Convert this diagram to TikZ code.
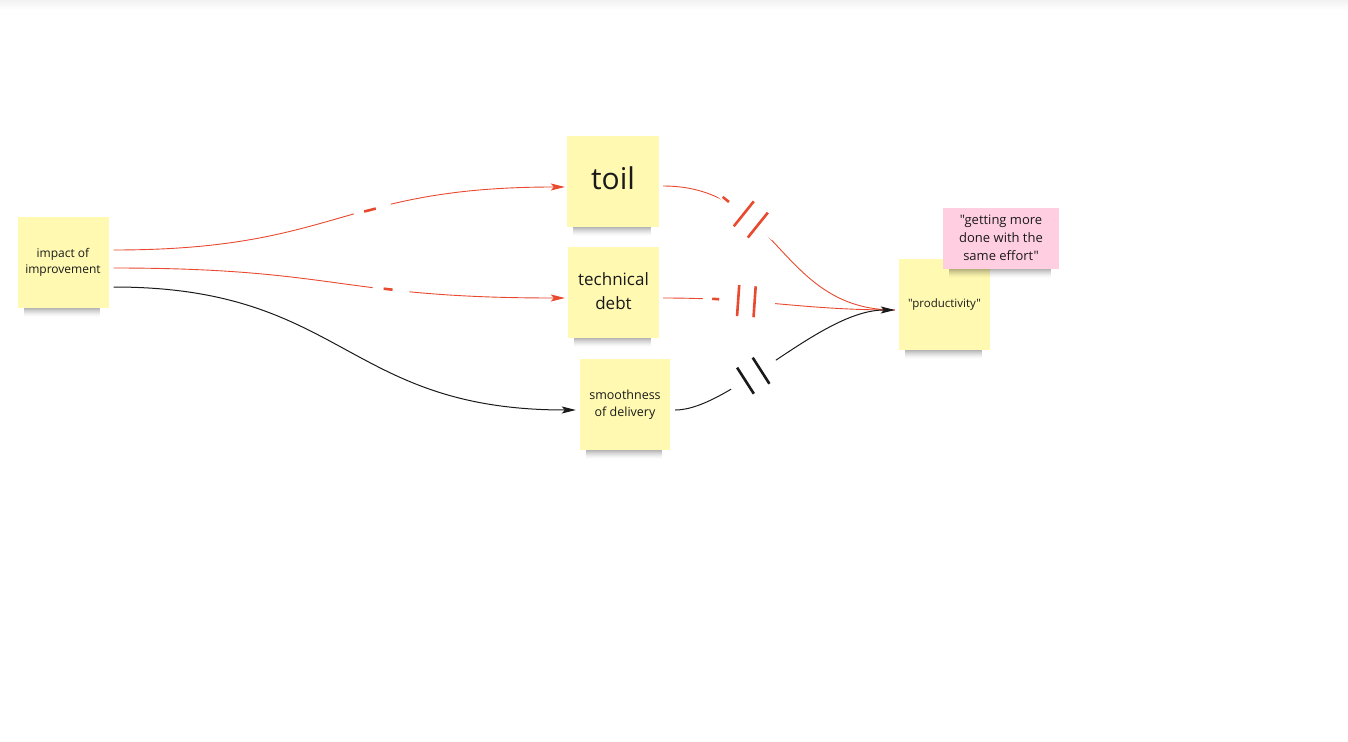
\documentclass[tikz,border=0pt]{standalone}
\usepackage{fontspec}
\setmainfont{Open Sans}[Ligatures=TeXOff]
\usetikzlibrary{arrows.meta,calc,decorations.markings}
\definecolor{sticky}{HTML}{FFF9B1}
\definecolor{stickypink}{HTML}{FFCEE0}
\definecolor{linered}{HTML}{E8492F}
\definecolor{ink}{HTML}{1A1A1A}
\tikzset{
  stickynote/.style={fill=sticky, minimum width=91pt, minimum height=91pt, inner sep=2pt,
    align=center, text=ink, font=\fontsize{12}{16}\selectfont},
  redconn/.style={draw=linered, line width=0.9pt},
  blackconn/.style={draw=ink, line width=1pt},
  redtip/.style={-{Stealth[length=14pt,width=7pt,inset=3pt]}},
  breakstroke/.style={line width=2.6pt, arrows=-},
}
\newcommand\noteshadow[3]{%
  \foreach \i [evaluate=\i as \op using {0.34*(1-\i/10)^1.5}] in {0,...,9}{
    \fill[black, opacity=\op] (#1+6,#3+\i-1) rectangle (#2-8,#3+\i);
  }}
\begin{document}
\begin{tikzpicture}[x=1pt,y=-1pt]
\useasboundingbox[fill=white] (0,0) rectangle (1348,741);
% top bar shade
\foreach \i [evaluate=\i as \op using {0.05*(1-\i/10)}] in {0,...,9}{
  \fill[black, opacity=\op] (0,\i) rectangle (1348,\i+1);
}
% notes
\noteshadow{18}{108}{308}
\node[stickynote] (impact) at (63,262.5) {impact of\\improvement};
\noteshadow{567}{659}{227}
\node[stickynote, minimum width=92pt, text depth=7pt, font=\fontsize{30}{36}\selectfont] (toil) at (613,181.5) {toil};
\noteshadow{568}{659}{338}
\node[stickynote, font=\fontsize{17}{24}\selectfont] (debt) at (613.5,292.5) {\raisebox{2pt}{\begin{tabular}{@{}c@{}}technical\\debt\end{tabular}}};
\noteshadow{580}{670}{450}
\node[stickynote, minimum width=90pt, font=\fontsize{12.5}{17}\selectfont] (smooth) at (625,404.5) {smoothness\\of delivery};
\noteshadow{899}{990}{350}
\node[stickynote, font=\fontsize{11.5}{15}\selectfont] (prod) at (944.5,304.5) {"productivity"};
\noteshadow{943}{1059}{269}
\node[stickynote, fill=stickypink, minimum width=116pt, minimum height=61pt,
  font=\fontsize{13}{18}\selectfont] (quote) at (1001,238.5) {\raisebox{2pt}{\begin{tabular}{@{}c@{}}"getting more\\done with the\\same effort"\end{tabular}}};

% impact -> toil
\draw[redconn, redtip, postaction={decorate}, decoration={markings,
  mark=at position 263pt with {
    \fill[white] (-19pt,-3pt) rectangle (19pt,3pt);
    \draw[linered, breakstroke] (-8.5pt,0pt) -- (3.5pt,0pt);
  }}]
  ($(impact.east)+(5,-12.5)$) .. controls (339,250) and (339,187) .. ($(toil.west)+(-2,5.5)$);
% impact -> technical debt
\draw[redconn, redtip, postaction={decorate}, decoration={markings,
  mark=at position 278.5pt with {
    \fill[white] (-18.5pt,-3pt) rectangle (18.5pt,3pt);
    \draw[linered, breakstroke] (-7.5pt,0pt) -- (1.5pt,0pt);
  }}]
  ($(impact.east)+(5,5.5)$) .. controls (339,268) and (339,298) .. ($(debt.west)+(-3,5.5)$);
% impact -> smoothness
\draw[blackconn, -{Stealth[length=14pt,width=7pt,inset=3pt]}]
  ($(impact.east)+(5,24.5)$) .. controls (345,287) and (345,410) .. ($(smooth.west)+(-4,5.5)$);

% toil -> productivity
\draw[redconn, postaction={decorate}, decoration={markings,
  mark=at position 88pt with {
    \fill[white] (-38pt,-3pt) rectangle (37pt,3pt);
    \draw[linered, breakstroke] (-28pt,0pt) -- (-20pt,0pt);
    \draw[linered, breakstroke] (-1pt,-16pt) -- (-1pt,16pt);
    \draw[linered, breakstroke] (17pt,-16pt) -- (17pt,16pt);
  }}]
  ($(toil.east)+(4,4.5)$) .. controls (779,186) and (779,310) .. ($(prod.west)+(-4,5.5)$);
% technical debt -> productivity
\draw[redconn, postaction={decorate}, decoration={markings,
  mark=at position 76pt with {
    \fill[white] (-36pt,-3pt) rectangle (36pt,3pt);
    \draw[linered, breakstroke] (-27pt,0pt) -- (-20pt,0pt);
    \draw[linered, breakstroke] (-1pt,-15.5pt) -- (-1pt,15.5pt);
    \draw[linered, breakstroke] (15.5pt,-15.5pt) -- (15.5pt,15.5pt);
  }}]
  ($(debt.east)+(4,5.5)$) .. controls (760,298) and (800,310) .. ($(prod.west)+(-4,5.5)$);
% smoothness -> productivity
\draw[blackconn, -{Stealth[length=14pt,width=7pt,inset=3pt]}, postaction={decorate}, decoration={markings,
  mark=at position 87pt with {
    \fill[white] (-26.5pt,-3pt) rectangle (26.5pt,3pt);
    \draw[ink, breakstroke] (-10pt,-15.5pt) -- (-10pt,15.5pt);
    \draw[ink, breakstroke] (8.5pt,-15.5pt) -- (8.5pt,15.5pt);
  }}]
  ($(smooth.east)+(5,5.5)$) .. controls (730,410) and (820,310) .. ($(prod.west)+(-4,5.5)$);
\end{tikzpicture}
\end{document}
